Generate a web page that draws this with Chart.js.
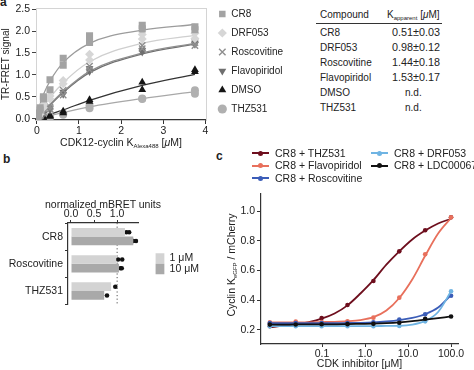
<!DOCTYPE html>
<html>
<head>
<meta charset="utf-8">
<script src="https://cdn.jsdelivr.net/npm/chart.js@4.4.0/dist/chart.umd.min.js"></script>
<style>
    body { margin: 0; width: 474px; height: 370px; background: #fff; position: relative; overflow: hidden;
           font-family: "Liberation Sans", Arial, sans-serif; color: #222; }
    canvas { position: absolute; }
    .t { position: absolute; font-size: 10.5px; line-height: 1; white-space: nowrap; }
    .t sub { font-size: 6px; vertical-align: -2px; }
    #table .t { font-size: 10px; }
    #table .t.num { font-size: 10.8px; }
    .letter { position: absolute; font-size: 12px; font-weight: bold; line-height: 1; }
    .lg-line { position: absolute; height: 2px; width: 17px; }
    .lg-dot { position: absolute; width: 5px; height: 5px; border-radius: 50%; }
</style>
</head>
<body>
<div class="letter" style="left:0px;top:-4px">a</div>
<div class="letter" style="left:3px;top:153px">b</div>
<div class="letter" style="left:216px;top:150px">c</div>

<canvas id="chartA" width="293" height="150" style="left:0;top:0"></canvas>
<canvas id="chartB" width="209" height="118" style="left:0;top:195px"></canvas>
<canvas id="chartC" width="274" height="185" style="left:200px;top:185px"></canvas>

<div class="t" style="left:121px;top:137px;transform:translateX(-50%)">CDK12-cyclin K<sub>Alexa488</sub> [<i>μ</i>M]</div>
<div class="t" style="left:103px;top:199px;transform:translateX(-50%)">normalized mBRET units</div>
<div class="t" style="left:232px;top:265px;transform:translate(-50%,-50%) rotate(-90deg)">Cyclin K<sub>eGFP</sub> / mCherry</div>

<div id="table"></div>
<div id="legendC"></div>

<script>
// ---- panel a: TR-FRET titration ----
const concA = [0, 0.039, 0.078, 0.156, 0.3125, 0.625, 1.25, 2.5, 3.75];
const cr8Rep1 = [0.05, 0.13, 0.25, 0.50, 0.89, 1.38, 1.89, 2.13, 2.10];
const cr8Rep2 = [0.02, 0.08, 0.20, 0.45, 0.66, 1.22, 1.74, 2.05, 2.03];
const cr8Fit = [0, 0.18, 0.33, 0.55, 0.86, 1.28, 1.72, 2.02, 2.15];
const drfRep1 = [0.03, 0.08, 0.15, 0.32, 0.52, 0.87, 1.47, 1.92, 1.95];
const drfRep2 = [0.01, 0.05, 0.10, 0.25, 0.45, 0.80, 1.34, 1.82, 1.83];
const drfFit = [0, 0.07, 0.14, 0.26, 0.48, 0.82, 1.30, 1.72, 1.90];
const roscoRep1 = [0.02, 0.05, 0.08, 0.15, 0.27, 0.65, 1.20, 1.67, 1.74];
const roscoRep2 = [0.00, 0.03, 0.06, 0.12, 0.22, 0.54, 1.12, 1.60, 1.67];
const roscoFit = [0, 0.04, 0.09, 0.17, 0.33, 0.62, 1.08, 1.50, 1.72];
const flavoRep1 = [0.01, 0.03, 0.06, 0.12, 0.25, 0.61, 1.15, 1.56, 1.73];
const flavoRep2 = [0.00, 0.02, 0.04, 0.10, 0.20, 0.56, 1.08, 1.52, 1.70];
const flavoFit = [0, 0.04, 0.08, 0.16, 0.31, 0.60, 1.05, 1.48, 1.70];
const dmsoRep1 = [0.01, 0.02, 0.03, 0.05, 0.07, 0.17, 0.43, 0.83, 1.12];
const dmsoRep2 = [0.00, 0.01, 0.01, 0.02, 0.05, 0.13, 0.39, 0.66, 1.07];
const dmsoFit = [0, 0.01, 0.02, 0.05, 0.10, 0.20, 0.42, 0.76, 1.01];
const thzRep1 = [0.01, 0.01, 0.02, 0.03, 0.05, 0.12, 0.30, 0.46, 0.65];
const thzRep2 = [0.00, 0.00, 0.01, 0.02, 0.03, 0.09, 0.24, 0.45, 0.57];
const thzFit = [0, 0.01, 0.02, 0.04, 0.07, 0.14, 0.27, 0.46, 0.62];
const ticksAy = [0, 0.5, 1, 1.5, 2, 2.5];
const ticksAx = [0, 1, 2, 3, 4];

// table next to panel a
const tableCompounds = ['CR8', 'DRF053', 'Roscovitine', 'Flavopiridol', 'DMSO', 'THZ531'];
const kApparent = ['0.51±0.03', '0.98±0.12', '1.44±0.18', '1.53±0.17', 'n.d.', 'n.d.'];

// ---- panel b: NanoBRET ----
const compoundsB = ['CR8', 'Roscovitine', 'THZ531'];
const bret1uM = [1.17, 0.98, 0.87];
const bret10uM = [1.35, 1.04, 0.72];
const dots1uM = [[1.11, 1.20, 1.26], [0.87, 1.02, 1.11], [0.74, 0.96]];
const dots10uM = [[1.30, 1.35, 1.41], [0.96, 1.07, 1.10], [0.67, 0.78]];
const ticksB = [0, 0.5, 1.0];

// ---- panel c: cyclin K degradation ----
const dosesC = [0.0061, 0.0244, 0.0977, 0.39, 1.5625, 6.25, 25, 100];
const fitDosesC = [0.0061, 0.0122, 0.0244, 0.049, 0.0977, 0.195, 0.39, 0.78, 1.5625, 3.125, 6.25, 12.5, 25, 50, 100];
const thzPts = [0.224, 0.246, 0.280, 0.367, 0.530, 0.730, 0.872, 0.960];
const thzCurve = [0.218, 0.226, 0.236, 0.252, 0.275, 0.310, 0.365, 0.445, 0.535, 0.640, 0.730, 0.810, 0.870, 0.918, 0.950];
const flavoPts = [0.250, 0.256, 0.252, 0.258, 0.282, 0.417, 0.710, 0.960];
const flavoCurve = [0.250, 0.250, 0.250, 0.250, 0.252, 0.254, 0.258, 0.266, 0.285, 0.330, 0.415, 0.540, 0.700, 0.850, 0.955];
const roscoPts = [0.245, 0.246, 0.246, 0.246, 0.250, 0.270, 0.305, 0.430];
const roscoCurve = [0.245, 0.245, 0.245, 0.245, 0.245, 0.245, 0.246, 0.247, 0.250, 0.256, 0.265, 0.280, 0.305, 0.350, 0.435];
const drfPts = [0.224, 0.224, 0.224, 0.224, 0.224, 0.226, 0.257, 0.460];
const drfCurve = [0.225, 0.225, 0.225, 0.225, 0.225, 0.225, 0.225, 0.225, 0.225, 0.226, 0.227, 0.235, 0.260, 0.320, 0.460];
const ldcPts = [0.235, 0.236, 0.237, 0.238, 0.240, 0.248, 0.275, 0.290];
const ldcCurve = [0.235, 0.235, 0.236, 0.236, 0.237, 0.237, 0.238, 0.240, 0.242, 0.245, 0.250, 0.258, 0.268, 0.279, 0.290];
const ticksCx = [0.1, 1, 10, 100];
const ticksCy = [0.2, 0.4, 0.6, 0.8, 1.0];

Chart.defaults.font.family = '"Liberation Sans", Arial, sans-serif';
Chart.defaults.font.size = 10.5;
Chart.defaults.color = '#222';
Chart.defaults.animation = false;

const pairs = (xs, ys) => xs.map((x, i) => ({ x, y: ys[i] }));

// --- panel a ---
const seriesA = [
    { label: 'CR8', r1: cr8Rep1, r2: cr8Rep2, fit: cr8Fit, color: '#a3a3a3', line: '#9c9c9c', style: 'rect', radius: 5, rot: 0 },
    { label: 'DRF053', r1: drfRep1, r2: drfRep2, fit: drfFit, color: '#d6d6d6', line: '#cfcfcf', style: 'rectRot', radius: 4.5, rot: 0 },
    { label: 'Roscovitine', r1: roscoRep1, r2: roscoRep2, fit: roscoFit, color: '#8e8e8e', line: '#8e8e8e', style: 'crossRot', radius: 4.5, rot: 0 },
    { label: 'Flavopiridol', r1: flavoRep1, r2: flavoRep2, fit: flavoFit, color: '#6f6f6f', line: '#6f6f6f', style: 'triangle', radius: 4.5, rot: 180 },
    { label: 'DMSO', r1: dmsoRep1, r2: dmsoRep2, fit: dmsoFit, color: '#151515', line: '#333333', style: 'triangle', radius: 4.5, rot: 0 },
    { label: 'THZ531', r1: thzRep1, r2: thzRep2, fit: thzFit, color: '#b0b0b0', line: '#a8a8a8', style: 'circle', radius: 4, rot: 0 }
];

const datasetsA = [];
seriesA.forEach(s => {
    datasetsA.push({
        type: 'scatter', label: s.label,
        data: pairs(concA, s.r1).concat(pairs(concA, s.r2)),
        pointStyle: s.style, pointRadius: s.radius, pointRotation: s.rot,
        backgroundColor: s.color, borderColor: s.color, borderWidth: s.style === 'crossRot' ? 1.4 : 0
    });
});
seriesA.forEach(s => {
    datasetsA.push({
        type: 'line', data: pairs(concA, s.fit),
        borderColor: s.line, borderWidth: 1.3, pointRadius: 0,
        cubicInterpolationMode: 'monotone', fill: false
    });
});

const boxLine = { display: true, ticks: { display: false }, grid: { display: false }, border: { color: '#d4d4d4', width: 1 } };

new Chart(document.getElementById('chartA'), {
    data: { datasets: datasetsA },
    options: {
        responsive: false,
        layout: { padding: 0 },
        plugins: {
            tooltip: { enabled: false },
            legend: {
                position: 'right', align: 'start', maxWidth: 200,
                labels: {
                    usePointStyle: true, boxWidth: 8, boxHeight: 6.5, padding: 9,
                    font: { size: 10 }, color: '#222',
                    filter: item => !!item.text
                }
            }
        },
        scales: {
            x: {
                type: 'linear', min: -0.02, max: 4.02,
                afterBuildTicks: s => { s.ticks = ticksAx.map(v => ({ value: v })); },
                afterFit: s => { s.height = 30; },
                ticks: { padding: 1, color: '#222' },
                grid: { drawOnChartArea: false, tickLength: 4, tickColor: '#333' },
                border: { color: '#333', width: 1.2 }
            },
            y: {
                type: 'linear', min: -0.03, max: 2.52,
                afterBuildTicks: s => { s.ticks = ticksAy.map(v => ({ value: v })); },
                afterFit: s => { s.width = 36; },
                ticks: { padding: 2, color: '#222', callback: v => v.toFixed(1) },
                grid: { drawOnChartArea: false, tickLength: 4, tickColor: '#444' },
                border: { color: '#d4d4d4', width: 1 },
                title: { display: true, text: 'TR-FRET signal', padding: 0, font: { size: 10 } }
            },
            xTop: Object.assign({ position: 'top', afterFit: s => { s.height = 5; } }, boxLine),
            yRight: Object.assign({ position: 'right', afterFit: s => { s.width = 3; } }, boxLine)
        }
    }
});

// table
const table = document.getElementById('table');
const addText = (html, left, top, extra, cls) => {
    const d = document.createElement('div');
    d.className = 't' + (cls ? ' ' + cls : '');
    d.innerHTML = html;
    d.style.left = left + 'px';
    d.style.top = top + 'px';
    if (extra) Object.assign(d.style, extra);
    table.appendChild(d);
};
addText('Compound', 320, 10);
addText('K<sub>apparent</sub> [<i>μ</i>M]', 387, 10);
const rule = document.createElement('div');
Object.assign(rule.style, { position: 'absolute', left: '316px', top: '23px', width: '126px', borderTop: '1px solid #333' });
table.appendChild(rule);
tableCompounds.forEach((name, i) => {
    const top = 28 + i * 15;
    addText(name, 320, top);
    if (kApparent[i] === 'n.d.') addText(kApparent[i], 405, top);
    else addText(kApparent[i], 0, top - 1, { left: 'auto', right: (474 - 440) + 'px' }, 'num');
});

// --- panel b ---
const catPct = 0.64;
const dotPoints = (groups, shift) => {
    const out = [];
    groups.forEach((vals, i) => vals.forEach(v => out.push({ x: v, y: i + shift })));
    return out;
};

new Chart(document.getElementById('chartB'), {
    data: {
        labels: compoundsB,
        datasets: [
            { type: 'bar', label: '1 μM', data: bret1uM, indexAxis: 'y', backgroundColor: '#d3d3d3',
              categoryPercentage: catPct, barPercentage: 1, borderWidth: 0 },
            { type: 'bar', label: '10 μM', data: bret10uM, indexAxis: 'y', backgroundColor: '#a9a9a9',
              categoryPercentage: catPct, barPercentage: 1, borderWidth: 0 },
            { type: 'scatter', data: dotPoints(dots1uM, -catPct / 4), yAxisID: 'yDots',
              pointRadius: 2.3, backgroundColor: '#111', borderWidth: 0 },
            { type: 'scatter', data: dotPoints(dots10uM, catPct / 4), yAxisID: 'yDots',
              pointRadius: 2.3, backgroundColor: '#111', borderWidth: 0 },
            { type: 'line', data: [{ x: 1, y: -0.5 }, { x: 1, y: compoundsB.length - 0.5 }], yAxisID: 'yDots',
              borderColor: '#555', borderWidth: 1, borderDash: [1.2, 2.4], pointRadius: 0 }
        ]
    },
    options: {
        responsive: false,
        layout: { padding: { bottom: 5 } },
        plugins: {
            tooltip: { enabled: false },
            legend: {
                position: 'right', align: 'center', fullSize: false, maxWidth: 120,
                labels: {
                    boxWidth: 9, boxHeight: 10.5, padding: 0, font: { size: 10.5 }, color: '#222',
                    filter: item => !!item.text
                }
            }
        },
        scales: {
            x: {
                type: 'linear', position: 'top', min: -0.065, max: 1.46,
                afterBuildTicks: s => { s.ticks = ticksB.map(v => ({ value: v })); },
                afterFit: s => { s.height = 28; },
                ticks: { padding: 0, color: '#222', callback: v => v.toFixed(1) },
                grid: { drawOnChartArea: false, tickLength: 3, tickColor: '#333' },
                border: { color: '#333', width: 1.2 }
            },
            y: {
                type: 'category', labels: compoundsB,
                afterFit: s => { s.width = 68; },
                ticks: { padding: 2, color: '#222' },
                grid: { drawOnChartArea: false, tickLength: 3, tickColor: '#333' },
                border: { color: '#333', width: 1.2 }
            },
            yDots: { type: 'linear', display: false, reverse: true, min: -0.5, max: compoundsB.length - 0.5 },
            yPad: { type: 'linear', position: 'right', display: true, ticks: { display: false },
                    grid: { display: false }, border: { display: false }, afterFit: s => { s.width = 17; } }
        }
    }
});

// --- panel c ---
const seriesC = [
    { label: 'CR8 + THZ531', pts: thzPts, curve: thzCurve, color: '#6e0f1e' },
    { label: 'CR8 + Flavopiridol', pts: flavoPts, curve: flavoCurve, color: '#e8705c' },
    { label: 'CR8 + Roscovitine', pts: roscoPts, curve: roscoCurve, color: '#3b5db8' },
    { label: 'CR8 + DRF053', pts: drfPts, curve: drfCurve, color: '#6fb4e3' },
    { label: 'CR8 + LDC00067', pts: ldcPts, curve: ldcCurve, color: '#111111' }
];

const datasetsC = [];
seriesC.slice().reverse().forEach(s => {
    datasetsC.push({
        type: 'line', label: s.label, data: pairs(fitDosesC, s.curve),
        borderColor: s.color, borderWidth: 1.8, pointRadius: 0, cubicInterpolationMode: 'monotone'
    });
    datasetsC.push({
        type: 'scatter', data: pairs(dosesC, s.pts),
        pointRadius: 2.3, backgroundColor: s.color, borderWidth: 0
    });
});

new Chart(document.getElementById('chartC'), {
    data: { datasets: datasetsC },
    options: {
        responsive: false,
        layout: { padding: { right: 16, top: 0 } },
        plugins: { legend: { display: false }, tooltip: { enabled: false } },
        scales: {
            x: {
                type: 'logarithmic', min: 0.0038, max: 145,
                afterBuildTicks: s => { s.ticks = ticksCx.map(v => ({ value: v })); },
                afterFit: s => { s.height = 26; },
                ticks: { padding: 1, color: '#222', callback: v => v < 1 ? String(v) : v.toFixed(1) },
                grid: { drawOnChartArea: false, tickLength: 3, tickColor: '#333' },
                border: { color: '#333', width: 1.2 },
                title: { display: true, text: 'CDK inhibitor [μM]', padding: 0 }
            },
            y: {
                type: 'linear', min: 0.104, max: 1.122,
                afterBuildTicks: s => { s.ticks = ticksCy.map(v => ({ value: v })); },
                afterFit: s => { s.width = 61; },
                ticks: { padding: 2, color: '#222', callback: v => v.toFixed(1) },
                grid: { drawOnChartArea: false, tickLength: 4, tickColor: '#333' },
                border: { color: '#333', width: 1.2 }
            }
        }
    }
});

// legend for panel c, two columns
const legendC = document.getElementById('legendC');
seriesC.forEach((s, i) => {
    const col = i < 3 ? 0 : 1;
    const row = i < 3 ? i : i - 3;
    const x = col === 0 ? 252 : 371;
    const y = 153 + row * 12.5;
    const line = document.createElement('div');
    line.className = 'lg-line';
    Object.assign(line.style, { left: x + 'px', top: (y - 1) + 'px', background: s.color });
    const dot = document.createElement('div');
    dot.className = 'lg-dot';
    Object.assign(dot.style, { left: (x + 6) + 'px', top: (y - 2.5) + 'px', background: s.color });
    const txt = document.createElement('div');
    txt.className = 't';
    txt.textContent = s.label;
    Object.assign(txt.style, { left: (x + 23) + 'px', top: (y - 5.5) + 'px' });
    legendC.append(line, dot, txt);
});
</script>
</body>
</html>
